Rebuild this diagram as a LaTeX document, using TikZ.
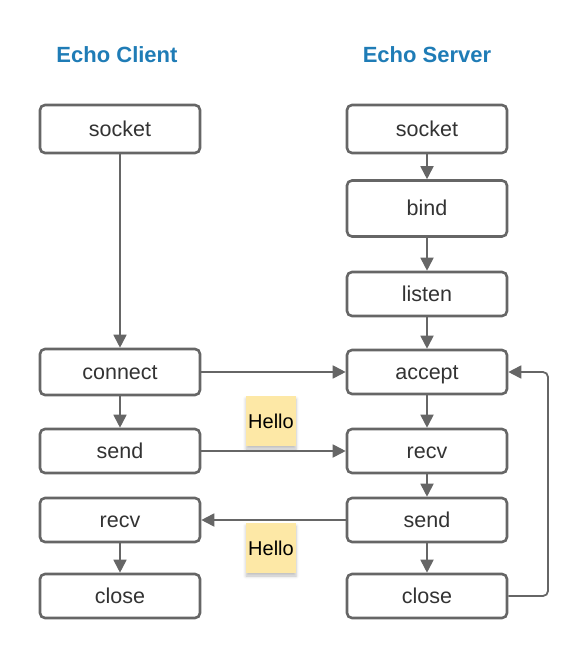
\documentclass[tikz,border=0pt]{standalone}
\usepackage{fontspec}
\setmainfont{Liberation Sans}
\usetikzlibrary{arrows.meta,shadows.blur}
\definecolor{boxline}{HTML}{666666}
\definecolor{txt}{HTML}{333333}
\definecolor{titleblue}{HTML}{1F7CB6}
\definecolor{note}{HTML}{FDE8A6}
\tikzset{
  stepbox/.style={draw=boxline, line width=2.6pt, rounded corners=5pt, fill=white,
    minimum width=160pt, text=txt, font=\fontsize{21.5}{25}\selectfont, inner sep=0pt,
    text height=15pt, text depth=1pt},
  flow/.style={draw=boxline, line width=1.8pt, -{Triangle[length=13pt,width=13pt]}},
  title/.style={text=titleblue, font=\fontsize{22}{26}\selectfont\bfseries},
  notebox/.style={fill=note, minimum width=50pt, minimum height=50pt, inner sep=0pt,
    font=\fontsize{20}{24}\selectfont, text=black,
    blur shadow={shadow xshift=0pt, shadow yshift=-3pt, shadow blur radius=3pt, shadow opacity=25}}
}
\begin{document}
\begin{tikzpicture}[x=1pt,y=-1pt]
\useasboundingbox (0,0) rectangle (588,658);
\node[title] (tc) at (117,55) {Echo Client};
\node[title] (ts) at (427,55) {Echo Server};
% client
\node[stepbox, minimum height=48pt] (cs) at (120,129) {socket};
\node[stepbox, minimum height=46pt] (cc) at (120,372) {connect};
\node[stepbox, minimum height=44pt] (cse) at (120,451) {send};
\node[stepbox, minimum height=44pt] (cr) at (120,520) {recv};
\node[stepbox, minimum height=44pt] (ccl) at (120,596) {close};
% server
\node[stepbox, minimum height=48pt] (ss) at (427,129) {socket};
\node[stepbox, minimum height=56pt] (sb) at (427,208.5) {bind};
\node[stepbox, minimum height=44pt] (sl) at (427,294) {listen};
\node[stepbox, minimum height=44pt] (sa) at (427,372) {accept};
\node[stepbox, minimum height=44pt] (sr) at (427,451) {recv};
\node[stepbox, minimum height=44pt] (sse) at (427,520) {send};
\node[stepbox, minimum height=44pt] (scl) at (427,596) {close};
% notes
\node[notebox] (n1) at (271,421) {Hello};
\node[notebox] (n2) at (271,548) {Hello};
% client flow
\draw[flow] (cs) -- (cc);
\draw[flow] (cc) -- (cse);
\draw[flow] (cr) -- (ccl);
% server flow
\draw[flow] (ss) -- (sb);
\draw[flow] (sb) -- (sl);
\draw[flow] (sl) -- (sa);
\draw[flow] (sa) -- (sr);
\draw[flow] (sr) -- (sse);
\draw[flow] (sse) -- (scl);
% cross
\draw[flow] (cc) -- (sa);
\draw[flow] (cse) -- (sr);
\draw[flow] (sse) -- (cr);
\coordinate (lb) at (548,596);
\coordinate (lt) at (548,372);
\draw[flow, rounded corners=5pt] (scl.east) -- (lb) -- (lt) -- (sa.east);
\end{tikzpicture}
\end{document}
